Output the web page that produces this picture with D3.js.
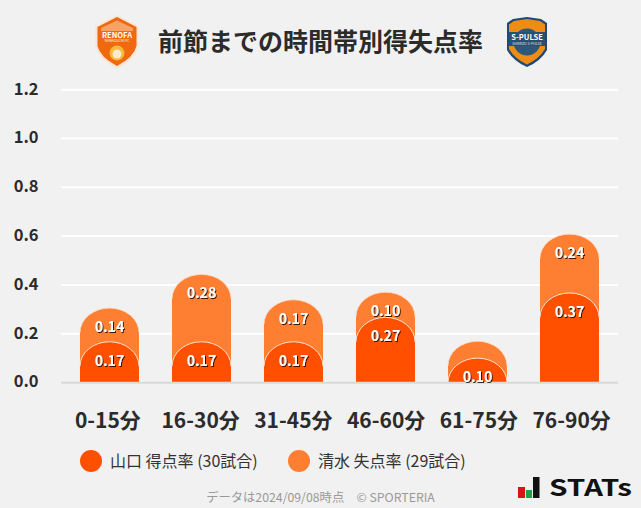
<!DOCTYPE html>
<html><head><meta charset="utf-8">
<script src="https://cdn.jsdelivr.net/npm/d3@7"></script>
<style>
html,body{margin:0;padding:0;background:#f1f1f1;overflow:hidden}
svg{display:block}
text{font-family:"Noto Sans CJK JP","Noto Sans",sans-serif}
</style></head><body>
<svg id="c" width="641" height="508"></svg>
<script>
const categories=["0-15分","16-30分","31-45分","46-60分","61-75分","76-90分"];
const yamaguchiRate=[0.167,0.167,0.167,0.267,0.100,0.367];
const shimizuRate=[0.138,0.276,0.172,0.103,0.069,0.241];
const shimizuLabels=["0.14","0.28","0.17","0.10",null,"0.24"];
const yTicks=[0,0.2,0.4,0.6,0.8,1.0,1.2];
const seriesNames=["山口 得点率 (30試合)","清水 失点率 (29試合)"];
const titleText="前節までの時間帯別得失点率";
const footerText="データは2024/09/08時点　© SPORTERIA";
const dark="#ff5000",light="#ff7f32";

const svg=d3.select("#c");
const defs=svg.append("defs");
const f=defs.append("filter").attr("id","sh").attr("x","-20%").attr("y","-20%").attr("width","140%").attr("height","140%");
f.append("feDropShadow").attr("dx",1).attr("dy",1).attr("stdDeviation",0.4).attr("flood-color","#000").attr("flood-opacity",0.8);

const y=d3.scaleLinear().domain([0,1.2]).range([382.5,89.7]);
const x=d3.scaleBand().domain(categories).range([63.5,615.5]).paddingInner(0).paddingOuter(0);
const xLabels=d3.scaleBand().domain(categories).range([61.5,618]).paddingInner(0).paddingOuter(0);
const bw=59, ry=24.5;

// grid
svg.append("g").selectAll("line").data(yTicks.filter(d=>d>0)).join("line")
 .attr("x1",61).attr("x2",618).attr("y1",d=>y(d)).attr("y2",d=>y(d))
 .attr("stroke","#fff").attr("stroke-width",2);

// axes
const gy=svg.append("g").attr("transform","translate(38.5,-1.5)")
 .call(d3.axisLeft(y).tickValues(yTicks).tickFormat(d3.format(".1f")).tickSize(0));
gy.select(".domain").remove();
gy.selectAll("text").attr("x",0).attr("dy","0.36em").attr("font-size",16.5).attr("font-weight",700).attr("fill","#2b2b2b");
const gx=svg.append("g").attr("transform","translate(0,382.5)")
 .call(d3.axisBottom(xLabels).tickSize(0));
gx.select(".domain").remove();
gx.selectAll("text").attr("y",45).attr("dy","0").attr("font-size",21).attr("font-weight",700).attr("fill","#2b2b2b");

function barPath(cx,top,base){
  const l=cx-bw/2,r=cx+bw/2,h=base-top,rr=Math.min(ry,h);
  return `M${l},${base}L${l},${top+rr}A${bw/2},${ry} 0 0 1 ${r},${top+rr}L${r},${base}Z`;
}
function arcPath(cx,top){
  const l=cx-bw/2,r=cx+bw/2;
  return `M${l},${top+ry}A${bw/2},${ry} 0 0 1 ${r},${top+ry}`;
}
const cxs=i=>x(categories[i])+x.bandwidth()/2;
const idx=categories.map((_,i)=>i);
const totals=idx.map(i=>yamaguchiRate[i]+shimizuRate[i]);

const gl=svg.append("g");
gl.selectAll("path.b").data(idx).join("path").attr("class","b")
 .attr("d",i=>barPath(cxs(i),y(totals[i]),y(0))).attr("fill",light);
gl.selectAll("path.a").data(idx).join("path").attr("class","a")
 .attr("d",i=>arcPath(cxs(i),y(totals[i]))).attr("fill","none").attr("stroke","#ffd9c2").attr("stroke-width",0.8);
const gd=svg.append("g");
gd.selectAll("path.b").data(idx).join("path").attr("class","b")
 .attr("d",i=>barPath(cxs(i),y(yamaguchiRate[i]),y(0))).attr("fill",dark);
gd.selectAll("path.a").data(idx).join("path").attr("class","a")
 .attr("d",i=>arcPath(cxs(i),y(yamaguchiRate[i]))).attr("fill","none").attr("stroke","#ffe3d2").attr("stroke-width",1);

// baseline
svg.append("line").attr("x1",61).attr("x2",618).attr("y1",382.8).attr("y2",382.8).attr("stroke","#d9d9d9").attr("stroke-width",2);

// value labels
const lab=svg.append("g").attr("text-anchor","middle").attr("font-size",14.2).attr("font-weight",700).attr("fill","#fff").attr("filter","url(#sh)");
lab.selectAll("text.s").data(idx.filter(i=>shimizuLabels[i])).join("text").attr("class","s")
 .attr("x",i=>cxs(i)).attr("y",i=>y(totals[i])+24).text(i=>shimizuLabels[i]);
lab.selectAll("text.y").data(idx).join("text").attr("class","y")
 .attr("x",i=>cxs(i)).attr("y",i=>y(yamaguchiRate[i])+24).text(i=>yamaguchiRate[i].toFixed(2));

// title
svg.append("text").attr("x",320.5).attr("y",51).attr("text-anchor","middle").attr("font-size",25).attr("font-weight",700).attr("fill","#2b2b2b").text(titleText);

// left emblem
const e1=svg.append("g").attr("transform","translate(117,0)");
e1.append("path").attr("d","M0,15L21.5,26V46Q19,59 0,68.5Q-19,59 -21.5,46V26Z").attr("fill","#fbe6d6");
e1.append("path").attr("d","M0,17L19.5,27V46Q17,57 0,66Q-17,57 -19.5,46V27Z").attr("fill","#f0690f");
e1.append("path").attr("d","M-16,28L0,20.5L16,28V31H-16Z").attr("fill","#f7a266");
e1.append("text").attr("y",37.5).attr("text-anchor","middle").attr("font-size",7.5).attr("font-weight",700).attr("fill","#fff").text("RENOFA");
e1.append("text").attr("y",42).attr("text-anchor","middle").attr("font-size",3.6).attr("fill","#fff").text("YAMAGUCHI FC");
e1.append("circle").attr("cy",53).attr("r",7.5).attr("fill","#f6b93b");
e1.append("circle").attr("cy",54).attr("r",4.5).attr("fill","#fbe9d0");

// right emblem
const e2=svg.append("g").attr("transform","translate(527,0)");
e2.append("path").attr("d","M-14,19L0,17L14,19L20,23V50Q14,61 0,67Q-14,61 -20,50V23Z").attr("fill","#1f4a75");
e2.append("path").attr("d","M-13,21L0,19L13,21L18,24.5V49Q12,59 0,64.5Q-12,59 -18,49V24.5Z").attr("fill","#ee8d16");
e2.append("circle").attr("cy",42).attr("r",13.5).attr("fill","#2f5878");
e2.append("rect").attr("x",-18).attr("y",32).attr("width",36).attr("height",14).attr("fill","#2b4f70");
e2.append("text").attr("y",39.5).attr("text-anchor","middle").attr("font-size",7.5).attr("font-weight",700).attr("fill","#fff").text("S-PULSE");
e2.append("text").attr("y",45).attr("text-anchor","middle").attr("font-size",3.6).attr("fill","#e8e8e8").text("SHIMIZU S-PULSE");

// legend
const lgX=[91,299],lgC=[dark,light],lgT=[110,318];
const lg=svg.append("g");
lg.selectAll("circle").data([0,1]).join("circle").attr("cx",i=>lgX[i]).attr("cy",461).attr("r",11).attr("fill",i=>lgC[i]);
lg.selectAll("text").data([0,1]).join("text").attr("x",i=>lgT[i]).attr("y",467).attr("font-size",16).attr("fill","#333").text(i=>seriesNames[i]);

// footer
svg.append("text").attr("x",320.5).attr("y",502).attr("text-anchor","middle").attr("font-size",12.3).attr("fill","#999").text(footerText);

// STATs logo
const s=svg.append("g");
s.append("rect").attr("x",518).attr("y",487).attr("width",7).attr("height",11).attr("fill","#d7141a");
s.append("rect").attr("x",526).attr("y",490).attr("width",6).attr("height",8).attr("fill","#19a64a");
s.append("rect").attr("x",533).attr("y",477).attr("width",6.5).attr("height",21).attr("fill","#111");
s.append("text").attr("x",549).attr("y",496).attr("font-family","'DejaVu Sans'").attr("font-size",23).attr("font-weight",700).attr("fill","#111").attr("textLength",83).attr("lengthAdjust","spacingAndGlyphs").text("STATs");
</script>
</body></html>
